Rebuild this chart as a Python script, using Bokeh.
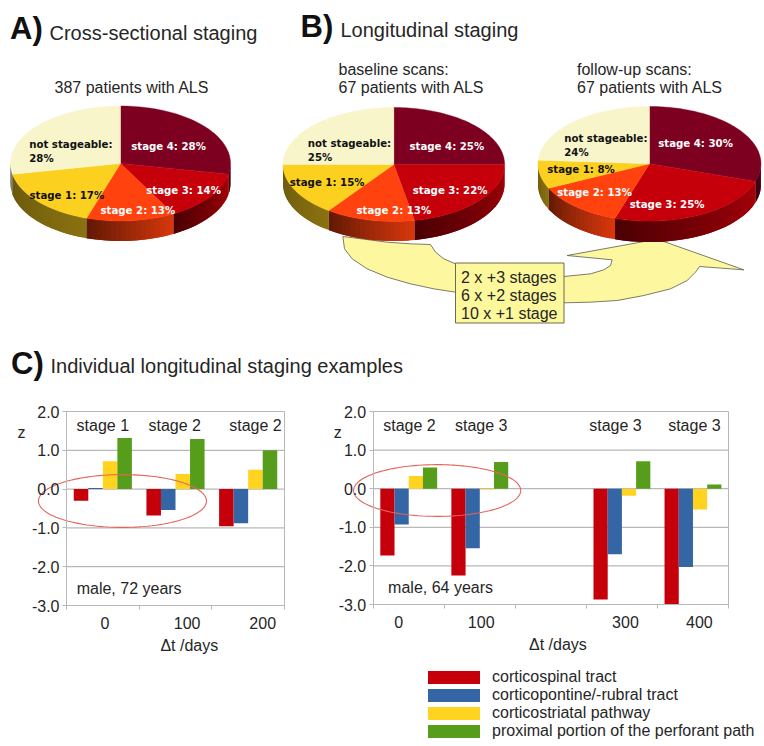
import numpy as np
from bokeh.embed import file_html
from bokeh.resources import INLINE
from bokeh.layouts import column, row
from bokeh.models import Range1d, FixedTicker, NumeralTickFormatter, ColumnDataSource, LinearAxis
from bokeh.plotting import figure
from bokeh.core.properties import value

# ---- data ----
PIE_NAMES = ["stage 4", "stage 3", "stage 2", "stage 1", "not stageable"]
PIE_COLORS = ["#7e0021", "#c5000b", "#ff420e", "#fcd01f", "#f8f5cb"]
PCT_CROSS = [28, 14, 13, 17, 28]
PCT_BASE = [25, 22, 13, 15, 25]
PCT_FOLLOW = [30, 25, 13, 8, 24]

TRACTS = ["corticospinal tract", "corticopontine/-rubral tract", "corticostriatal pathway",
          "proximal portion of the perforant path"]
TRACT_COLORS = ["#c5000b", "#3465a4", "#ffd320", "#579d1c"]

LEFT_SLOTS = [0, 1, 2]
LEFT_RED = [-0.30, -0.68, -0.96]
LEFT_BLUE = [0.03, -0.54, -0.88]
LEFT_YELLOW = [0.72, 0.39, 0.50]
LEFT_GREEN = [1.32, 1.29, 1.00]
LEFT_TICK_LABELS = ["0", "100", "200"]
LEFT_STAGES = ["stage 1", "stage 2", "stage 2"]

RIGHT_SLOTS = [0, 1, 3, 4]
RIGHT_RED = [-1.73, -2.25, -2.87, -3.00]
RIGHT_BLUE = [-0.93, -1.54, -1.70, -2.03]
RIGHT_YELLOW = [0.33, -0.02, -0.18, -0.54]
RIGHT_GREEN = [0.55, 0.69, 0.71, 0.11]
RIGHT_TICK_LABELS = ["0", "100", "300", "400"]
RIGHT_STAGES = ["stage 2", "stage 3", "stage 3", "stage 3"]

Z_TICKS = [-3, -2, -1, 0, 1, 2]
TRANSITIONS = ["2 x +3 stages", "6 x +2 stages", "10 x +1 stage"]

SANS = value("Liberation Sans")
BOLD = value("DejaVu Sans")
INK = "#262626"
GRID = "#b8b8b8"
W, H_TOP, H_BOT = 764, 395, 351

top = figure(width=W, height=H_TOP, x_range=Range1d(0, W), y_range=Range1d(H_TOP, 0),
             output_backend="svg", toolbar_location=None, min_border=0, outline_line_color=None,
             background_fill_color="white")
top.axis.visible = False
top.grid.visible = False


def txt(p, x, y, s, size, color=INK, style="normal", font=SANS, align="left"):
    p.text([x], [y], text=[s], text_font=font, text_font_size=size, text_color=color,
           text_font_style=style, text_baseline="middle", text_align=align)


def shade(hexcol, f):
    r, g, b = (int(hexcol[i:i + 2], 16) for i in (1, 3, 5))
    return "#%02x%02x%02x" % (int(r * f), int(g * f), int(b * f))


def pie(p, pct, cx, cy, rx, ry, depth):
    edges = np.cumsum([0] + list(pct)) / 100 * 360
    xs, ys, cs = [], [], []
    for i, col in enumerate(PIE_COLORS):
        a0, a1 = max(edges[i], 90), min(edges[i + 1], 270)
        if a1 <= a0:
            continue
        n = max(2, int((a1 - a0) / 2.5))
        th = np.radians(np.linspace(a0, a1, n + 1))
        low, high = (0.38, 0.85) if col not in ("#fcd01f", "#f8f5cb") else (0.42, 0.55)
        for k in range(n):
            t = 1 - (k + 0.5) / n
            # each strip runs on under the next one, which hides the seams
            end = min(k + 2, n)
            ex = cx + rx * np.sin(th[[k, end]])
            ey = cy - ry * np.cos(th[[k, end]])
            xs.append([ex[0], ex[1], ex[1], ex[0]])
            ys.append([ey[0], ey[1], ey[1] + depth, ey[0] + depth])
            cs.append(shade(col, low + (high - low) * t))
    p.patches(xs, ys, fill_color=cs, line_color=None)
    for i, col in enumerate(PIE_COLORS):
        th = np.radians(np.linspace(edges[i], edges[i + 1], 60))
        ex = np.concatenate([[cx], cx + rx * np.sin(th)])
        ey = np.concatenate([[cy], cy - ry * np.cos(th)])
        p.patch(ex, ey, fill_color=col, line_color=col, line_width=0.4)


# transition arrow (behind the pies)
ARROW_ZOOM = [(217, 708), (222, 745), (245, 775), (290, 805), (350, 830), (420, 850), (490, 865), (555, 875),
              (700, 900), (880, 907), (960, 905), (1040, 900), (1120, 885), (1200, 865), (1250, 840), (1275, 815),
              (1287, 798), (1420, 808), (1160, 716), (890, 765), (1025, 778), (1020, 795), (1000, 808), (960, 820),
              (880, 828), (700, 800), (555, 790), (520, 775), (495, 755), (480, 732), (420, 730), (350, 725),
              (280, 716)]
top.patch([270 + a / 3 for a, _ in ARROW_ZOOM], [b / 3 for _, b in ARROW_ZOOM],
          fill_color="#fdf8a0", line_color="#5a5a4a", line_width=0.8)
top.quad(left=[455], right=[563.5], top=[262.5], bottom=[322.5], fill_color="#fdf89c",
         line_color="#6b6b55", line_width=1)
for s, y in zip(TRANSITIONS, [277, 295, 313]):
    txt(top, 460.5, y, s, "16px")

pie(top, PCT_CROSS, 120, 163, 110, 57.5, 20)
pie(top, PCT_BASE, 393.3, 164, 110.8, 57, 19.5)
pie(top, PCT_FOLLOW, 649, 163.3, 111.5, 57.3, 21)


def pie_labels(p, pct, pos, ns_pos):
    text_cols = ["white", "white", "white", "#111111"]
    for name, v, (x, y), c in zip(PIE_NAMES[:4], pct[:4], pos, text_cols):
        txt(p, x, y, f"{name}: {v}%", "10.2px", c, "bold", BOLD)
    txt(p, ns_pos[0], ns_pos[1], f"{PIE_NAMES[4]}:", "10.2px", "#111111", "bold", BOLD)
    txt(p, ns_pos[0], ns_pos[1] + 14, f"{pct[4]}%", "10.2px", "#111111", "bold", BOLD)


pie_labels(top, PCT_CROSS, [(130.7, 146), (145.7, 189.7), (100, 210), (29, 195)], (28.7, 143.7))
pie_labels(top, PCT_BASE, [(409, 145.7), (412.3, 189.7), (356, 209.7), (289.3, 182)], (307.3, 143.3))
pie_labels(top, PCT_FOLLOW, [(657.7, 143.3), (629.3, 204.3), (556.7, 192), (546.7, 169.3)], (563.7, 138.3))

txt(top, 9.5, 28, "A)", "31px", "#111111", "bold")
txt(top, 49, 32, "Cross-sectional staging", "20px")
txt(top, 54, 87, "387 patients with ALS", "16px")
txt(top, 300, 26, "B)", "31px", "#111111", "bold")
txt(top, 340, 29, "Longitudinal staging", "20px")
txt(top, 338, 69.3, "baseline scans:", "16px")
txt(top, 338, 87, "67 patients with ALS", "16px")
txt(top, 576.5, 69.3, "follow-up scans:", "16px")
txt(top, 576.5, 87, "67 patients with ALS", "16px")
txt(top, 10.5, 363, "C)", "31px", "#111111", "bold")
txt(top, 50, 365, "Individual longitudinal staging examples", "20px")


def bars(width, frame_box, n_slots, slots, series, tick_pos, tick_labels, stages, stage_x, note, note_x,
         z_x, dt_x, ell, with_legend):
    # frame_box: pixels of the drawn plot area inside this figure; the figure's frame fills the figure,
    # so the axes sit at fixed locations and nothing outside the plot area gets clipped
    fl, fr, ft, fb = frame_box
    sx = (fr - fl) / n_slots
    sy = (fb - ft) / 5
    x_rng = Range1d(-fl / sx, (width - fl) / sx)
    y_rng = Range1d(-3 - (H_BOT - fb) / sy, 2 + ft / sy)
    p = figure(width=width, height=H_BOT, x_range=x_rng, y_range=y_rng,
               output_backend="svg", toolbar_location=None, min_border=0, outline_line_color=None)
    p.xaxis.visible = False
    p.yaxis.visible = False
    p.grid.visible = False
    # gridlines stop at the plot area, which a Grid spanning the whole frame would not do
    p.segment(x0=[0] * len(Z_TICKS), x1=[n_slots] * len(Z_TICKS), y0=Z_TICKS, y1=Z_TICKS,
              line_color=GRID, line_width=1.2)
    p.line([n_slots, n_slots], [-3, 2], line_color=GRID, line_width=1)
    ya = LinearAxis(fixed_location=0, bounds=(-3, 2))
    ya.ticker = FixedTicker(ticks=Z_TICKS)
    ya.formatter = NumeralTickFormatter(format="0.0")
    ya.major_label_text_font = "Liberation Sans"
    ya.major_label_text_font_size = "16px"
    ya.major_label_text_color = INK
    ya.major_tick_out = 4
    ya.major_tick_in = 0
    ya.major_tick_line_color = GRID
    ya.minor_tick_line_color = None
    ya.axis_line_color = GRID
    ya.major_label_standoff = 3
    p.add_layout(ya, "left")
    xa = LinearAxis(fixed_location=-3, bounds=(0, n_slots))
    xa.ticker = FixedTicker(ticks=tick_pos, minor_ticks=list(range(n_slots + 1)))
    xa.major_label_overrides = dict(zip(tick_pos, tick_labels))
    xa.major_label_text_font = "Liberation Sans"
    xa.major_label_text_font_size = "16px"
    xa.major_label_text_color = INK
    xa.major_tick_line_color = None
    xa.major_tick_out = 0
    xa.major_tick_in = 0
    xa.minor_tick_out = 4
    xa.minor_tick_in = 0
    xa.minor_tick_line_color = GRID
    xa.axis_line_color = GRID
    xa.major_label_standoff = 7
    p.add_layout(xa, "below")
    for i, (vals, name, col) in enumerate(zip(series, TRACTS, TRACT_COLORS)):
        src = ColumnDataSource(dict(x=[s + 0.5 + (i - 1.5) * 0.2 for s in slots], top=vals, bottom=[0] * len(vals)))
        kw = dict(legend_label=name) if with_legend else {}
        p.vbar(x="x", top="top", bottom="bottom", width=0.2, source=src, fill_color=col, line_color=None, **kw)

    def t(x, y, s, align="center"):
        p.text([x], [y], text=[s], text_font=SANS, text_font_size="16px", text_color=INK,
               text_align=align, text_baseline="middle")

    for s, x in zip(stages, stage_x):
        t(x, 1.64, s)
    t(note_x, -2.56, note, "left")
    t(z_x, 1.46, "z")
    t(dt_x, -4.03, "Δt /days")
    cx, rx, cy, ry = ell
    th = np.linspace(0, 2 * np.pi, 120)
    p.line(cx + rx * np.cos(th), cy + ry * np.sin(th), line_color="#e4645c", line_width=1.1)
    return p


left = bars(318, (66, 284, 16, 210), 3, LEFT_SLOTS, [LEFT_RED, LEFT_BLUE, LEFT_YELLOW, LEFT_GREEN],
            [0.53, 1.66, 2.70], LEFT_TICK_LABELS, LEFT_STAGES, [0.5, 1.49, 2.60], "male, 72 years", 0.14,
            -0.62, 1.69, (0.77, 1.156, -0.307, 0.68), False)

right = bars(446, (54.7, 410, 16, 209), 5, RIGHT_SLOTS, [RIGHT_RED, RIGHT_BLUE, RIGHT_YELLOW, RIGHT_GREEN],
             [0.36, 1.52, 3.55, 4.59], RIGHT_TICK_LABELS, RIGHT_STAGES, [0.51, 1.52, 3.41, 4.52],
             "male, 64 years", 0.21, -0.5, 2.6, (0.9, 1.176, -0.047, 0.67), True)

lg = right.legend[0]
lg.location = (103, 6)
lg.padding = 0
lg.margin = 0
lg.spacing = 0
lg.glyph_width = 65
lg.glyph_height = 16
lg.label_height = 16
lg.label_standoff = 6
lg.label_text_font = "Liberation Sans"
lg.label_text_font_size = "16px"
lg.label_text_color = INK
lg.label_text_baseline = "middle"
lg.background_fill_alpha = 0
lg.border_line_color = None

page = column(top, row(left, right, spacing=0), spacing=0)
open("out.html", "w").write(file_html(page, INLINE))
